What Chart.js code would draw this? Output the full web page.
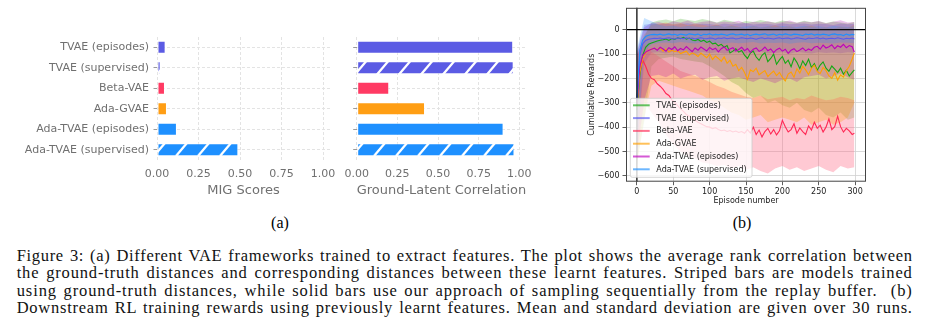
<!DOCTYPE html>
<html><head><meta charset="utf-8">
<script src="https://cdn.jsdelivr.net/npm/chart.js@4.4.1/dist/chart.umd.min.js"></script>
<style>
html,body{margin:0;padding:0;background:#fff;width:927px;height:326px;overflow:hidden;}
canvas{position:absolute;}
.lbl{position:absolute;width:40px;text-align:center;font-family:"Liberation Serif",serif;font-size:16px;line-height:17.4px;color:#000;}
.cap{position:absolute;left:16.7px;top:247px;width:896px;font-family:"Liberation Serif",serif;font-size:16.5px;line-height:17.4px;color:#111;}
.cap div{text-align:justify;text-align-last:justify;white-space:nowrap;}
</style></head>
<body>
<canvas id="mig" width="345" height="198" style="left:0;top:0;width:345px;height:198px"></canvas>
<canvas id="corr" width="210" height="198" style="left:330px;top:0;width:210px;height:198px"></canvas>
<canvas id="rl" width="300" height="206" style="left:580px;top:0;width:300px;height:206px"></canvas>
<div class="lbl" style="left:260px;top:214px">(a)</div>
<div class="lbl" style="left:722px;top:214px">(b)</div>
<div class="cap" id="cap">
<div><span>Figure 3: (a) Different VAE frameworks trained to extract features. The plot shows the average rank correlation between</span></div>
<div><span>the ground-truth distances and corresponding distances between these learnt features. Striped bars are models trained</span></div>
<div><span>using ground-truth distances, while solid bars use our approach of sampling sequentially from the replay buffer. &nbsp;(b)</span></div>
<div><span>Downstream RL training rewards using previously learnt features. Mean and standard deviation are given over 30 runs.</span></div>
</div>
<script>
// ---------- Panel (a) data ----------
const categories = ['TVAE (episodes)','TVAE (supervised)','Beta-VAE','Ada-GVAE','Ada-TVAE (episodes)','Ada-TVAE (supervised)'];
const migScores = [0.052, 0.022, 0.048, 0.060, 0.120, 0.490];
const groundLatentCorrelation = [0.962, 0.965, 0.200, 0.420, 0.903, 0.970];
const hatchedBars = [false, true, false, false, false, true];
const barColors = ['#5b5be4','#5b5be4','#ff3a63','#ff9e14','#1e90ff','#1e90ff'];
const barTicks = [0, 0.25, 0.5, 0.75, 1.0];

// ---------- Panel (b) data ----------
const seriesNames = ['TVAE (episodes)','TVAE (supervised)','Beta-VAE','Ada-GVAE','Ada-TVAE (episodes)','Ada-TVAE (supervised)'];
const episodes = [0,4,8,12,16,20,24,28,32,36, 40,44,48,52,56,60,64,68,72,76, 80,84,88,92,96,100,104,108,112,116, 120,124,128,132,136,140,144,148,152,156, 160,164,168,172,176,180,184,188,192,196, 200,204,208,212,216,220,224,228,232,236, 240,244,248,252,256,260,264,268,272,276, 280,284,288,292,296,299];
const tvaeEpisodes = [-330,-190,-105,-72,-60,-55,-50,-46,-43,-41, -38,-44,-36,-40,-33,-37,-31,-39,-34,-42, -45,-40,-48,-43,-52,-47,-58,-55,-66,-60, -72,-65,-95,-88,-78,-92,-85,-104,-118,-96, -88,-112,-126,-105,-94,-131,-118,-100,-142,-124, -110,-138,-125,-152,-116,-134,-160,-128,-147,-121, -155,-139,-166,-145,-132,-158,-171,-149,-162,-176, -158,-183,-167,-190,-175,-165];
const tvaeSupervised = [-300,-105,-58,-44,-39,-37,-35,-36,-34,-37, -35,-33,-36,-38,-34,-35,-37,-33,-36,-34, -38,-35,-33,-36,-37,-34,-35,-39,-34,-36, -33,-37,-35,-34,-38,-36,-33,-35,-37,-34, -36,-39,-35,-33,-37,-34,-36,-38,-35,-33, -37,-35,-34,-38,-36,-33,-35,-37,-39,-34, -36,-35,-33,-37,-34,-38,-36,-35,-37,-33, -36,-39,-35,-37,-34,-38];
const betaVae = [-300,-170,-125,-150,-182,-200,-205,-222,-232,-245, -262,-270,-288,-298,-312,-325,-335,-348,-355,-366, -372,-380,-386,-392,-398,-400,-406,-402,-410,-415, -412,-418,-414,-420,-416,-422,-418,-425,-410,-424, -400,-430,-412,-440,-418,-405,-428,-410,-432,-415, -372,-398,-420,-410,-386,-425,-403,-418,-430,-395, -412,-380,-405,-392,-420,-400,-366,-410,-398,-355, -398,-420,-405,-415,-430,-425];
const adaGvae = [-320,-175,-118,-95,-85,-80,-76,-82,-74,-88, -79,-92,-84,-90,-86,-98,-93,-88,-104,-95, -101,-110,-96,-106,-115,-100,-122,-108,-118,-130, -112,-138,-125,-150,-142,-168,-155,-176,-204,-165, -172,-158,-185,-176,-168,-192,-180,-170,-188,-175, -196,-210,-182,-174,-195,-160,-178,-150,-165,-184, -158,-146,-172,-180,-155,-168,-190,-200,-176,-207, -185,-195,-168,-150,-120,-95];
const adaTvaeEpisodes = [-310,-150,-105,-92,-85,-80,-76,-84,-72,-79, -88,-74,-81,-70,-86,-77,-83,-69,-80,-90, -75,-84,-71,-79,-87,-73,-82,-76,-91,-78, -70,-85,-79,-74,-88,-81,-72,-86,-77,-93, -80,-75,-89,-83,-71,-86,-79,-94,-82,-76, -88,-80,-97,-84,-78,-90,-83,-75,-87,-79, -85,-72,-68,-80,-63,-75,-70,-62,-78,-66, -72,-60,-74,-65,-70,-92];
const adaTvaeSupervised = [-290,-85,-42,-28,-23,-20,-19,-21,-18,-22, -20,-17,-21,-19,-23,-18,-20,-22,-17,-19, -21,-18,-24,-19,-20,-17,-22,-19,-21,-18, -20,-23,-19,-17,-21,-20,-18,-22,-19,-24, -20,-18,-21,-19,-17,-22,-20,-18,-23,-19, -21,-17,-20,-22,-18,-19,-21,-24,-18,-20, -17,-22,-19,-21,-18,-20,-23,-19,-17,-21, -20,-24,-18,-22,-19,-21];

const bandEpisodes = [0,10,20,30,40,50,60,70,80,90, 100,110,120,130,140,150,160,170,180,190, 200,210,220,230,240,250,260,270,280,290, 299];
const tvaeEpisodesUpper = [-120,-30,30,38,42,35,45,40,36,44, 38,30,41,35,28,36,32,40,34,30, 38,33,29,37,31,35,28,34,30,26, 32];
const tvaeEpisodesLower = [-540,-380,-150,-120,-115,-110,-120,-125,-130,-135, -150,-170,-190,-215,-230,-260,-280,-270,-300,-290, -310,-320,-300,-330,-340,-320,-350,-360,-340,-370, -360];
const tvaeSupervisedUpper = [-90,20,25,22,26,20,24,27,21,25, 23,19,26,22,24,28,21,25,23,20, 27,22,24,26,21,25,23,19,26,22, 24];
const tvaeSupervisedLower = [-500,-140,-95,-92,-98,-90,-96,-94,-100,-91, -97,-93,-99,-95,-92,-98,-94,-90,-97,-96, -93,-99,-91,-95,-98,-92,-96,-94,-97,-93, -95];
const betaVaeUpper = [-100,-60,-90,-110,-130,-150,-170,-180,-190,-200, -215,-230,-240,-255,-265,-275,-280,-270,-285,-280, -275,-290,-280,-285,-270,-280,-290,-285,-275,-280, -290];
const betaVaeLower = [-500,-300,-340,-380,-430,-470,-500,-520,-530,-545, -550,-560,-555,-570,-560,-575,-565,-580,-590,-570, -560,-575,-565,-580,-570,-560,-575,-585,-560,-570, -565];
const adaGvaeUpper = [-110,-20,20,25,30,22,28,18,25,20, 15,22,10,18,12,5,15,8,12,18, 10,14,6,12,16,8,10,5,12,8, 20];
const adaGvaeLower = [-560,-360,-230,-210,-220,-230,-240,-250,-260,-270, -290,-300,-320,-340,-350,-370,-360,-350,-380,-370, -360,-370,-380,-360,-390,-380,-370,-390,-380,-360, -300];
const adaTvaeEpisodesUpper = [-100,10,28,32,25,35,30,38,27,33, 36,29,34,31,37,26,33,30,35,28, 32,38,29,34,31,36,27,33,39,30, 32];
const adaTvaeEpisodesLower = [-520,-290,-190,-185,-195,-180,-200,-190,-185,-205, -195,-190,-210,-200,-195,-205,-215,-200,-210,-220, -205,-200,-215,-195,-190,-185,-200,-190,-180,-195, -205];
const adaTvaeSupervisedUpper = [-80,48,35,20,14,16,11,15,13,10, 14,17,12,15,11,13,16,10,14,12, 15,13,11,16,12,14,10,15,13,11, 14];
const adaTvaeSupervisedLower = [-480,-95,-60,-55,-52,-56,-50,-54,-57,-51, -55,-53,-58,-52,-56,-54,-50,-57,-53,-55, -52,-58,-54,-51,-56,-53,-55,-57,-52,-54, -56];

const rlXTicks = [0,50,100,150,200,250,300];
const rlYTicks = [-600,-500,-400,-300,-200,-100,0];

const lineColors = ['rgb(20,168,20)','rgb(88,88,240)','rgb(255,40,85)','rgb(255,160,0)','rgb(190,0,190)','rgb(30,144,255)'];
const fillColors = ['rgba(70,170,40,0.28)','rgba(90,80,220,0.28)','rgba(255,100,130,0.35)','rgba(255,155,0,0.28)','rgba(170,0,170,0.24)','rgba(30,144,255,0.24)'];

// ---------- caption letter fitting ----------
document.querySelectorAll('#cap div').forEach(d=>{
  const s=d.querySelector('span');
  d.style.textAlignLast='left'; d.style.textAlign='left';
  const w=s.getBoundingClientRect().width;
  d.style.textAlignLast=''; d.style.textAlign='';
  const n=s.textContent.length;
  const extra=896-w;
  if(extra>0){ d.style.letterSpacing=(extra*0.8/n).toFixed(3)+'px'; }
});

// ---------- helpers ----------
function hatch(color){
  const W=22,H=26, c=document.createElement('canvas'); c.width=W; c.height=H;
  const g=c.getContext('2d'); g.fillStyle=color; g.fillRect(0,0,W,H);
  g.strokeStyle='#ffffff'; g.lineWidth=2.3;
  [[-W,H,0,0],[0,H,W,0],[W,H,2*W,0]].forEach(([a,b,cc,d])=>{g.beginPath();g.moveTo(a,b);g.lineTo(cc,d);g.stroke();});
  return document.getElementById('mig').getContext('2d').createPattern(c,'repeat');
}
const FONT='"DejaVu Sans", sans-serif';
const GRAY='#707070';

function barChart(id, values, title, showLabels, yWidth, rightPad){
  const bg = barColors.map((c,i)=>hatchedBars[i]?hatch(c):c);
  return new Chart(document.getElementById(id),{
    type:'bar',
    data:{labels:categories, datasets:[{data:values, backgroundColor:bg,
      borderColor:'rgba(255,255,255,0.55)', borderWidth:1, borderSkipped:false,
      barPercentage:0.64, categoryPercentage:1}]},
    options:{
      indexAxis:'y', responsive:false, animation:false, devicePixelRatio:1,
      layout:{padding:{top:37,right:rightPad,left:0,bottom:0}},
      plugins:{legend:{display:false},tooltip:{enabled:false}},
      scales:{
        x:{type:'linear',min:0,max:1.042,
          afterBuildTicks:s=>{s.ticks=barTicks.map(v=>({value:v}));},
          afterFit:s=>{s.height=38;},
          grid:{color:'#e3e3e3',lineWidth:1,drawTicks:false},
          border:{display:false,dash:[3,2]},
          ticks:{font:{family:FONT,size:11},color:GRAY,padding:8,maxRotation:0,autoSkip:false,callback:v=>v.toFixed(2)},
          title:{display:true,text:title,font:{family:FONT,size:13},color:GRAY,padding:0}},
        y:{type:'category',
          afterFit:s=>{s.width=yWidth;},
          grid:{offset:false,color:'#e3e3e3',lineWidth:1,drawTicks:true,tickLength:3.5,tickColor:'#9a9a9a'},
          border:{display:false,dash:[3,2]},
          ticks:{font:{family:FONT,size:11},color:GRAY,padding:4.5,display:true,callback:function(v,i){return showLabels?categories[i]:'';}}}
      }
    }
  });
}
barChart('mig', migScores, 'MIG Scores', true, 157, 15);
barChart('corr', groundLatentCorrelation, 'Ground-Latent Correlation', false, 26.7, 9.6);

// ---------- Panel (b) ----------
const means=[tvaeEpisodes,tvaeSupervised,betaVae,adaGvae,adaTvaeEpisodes,adaTvaeSupervised];
const uppers=[tvaeEpisodesUpper,tvaeSupervisedUpper,betaVaeUpper,adaGvaeUpper,adaTvaeEpisodesUpper,adaTvaeSupervisedUpper];
const lowers=[tvaeEpisodesLower,tvaeSupervisedLower,betaVaeLower,adaGvaeLower,adaTvaeEpisodesLower,adaTvaeSupervisedLower];
const pairs=(xs,ys)=>ys.map((y,i)=>({x:xs[i],y:y}));
const datasets=[];
means.forEach((m,i)=>{
  datasets.push({label:seriesNames[i],data:pairs(episodes,m),borderColor:lineColors[i],borderWidth:1.1,pointRadius:0,fill:false,order:5-i});
});
means.forEach((m,i)=>{
  datasets.push({label:seriesNames[i]+' upper',data:pairs(bandEpisodes,uppers[i]),borderWidth:0,borderColor:'rgba(0,0,0,0)',pointRadius:0,fill:false,order:20-i});
  datasets.push({label:seriesNames[i]+' lower',data:pairs(bandEpisodes,lowers[i]),borderWidth:0,borderColor:'rgba(0,0,0,0)',pointRadius:0,fill:'-1',backgroundColor:fillColors[i],order:20-i});
});

const rlPlugin={
  id:'rlExtras',
  afterDatasetsDraw(chart){
    const {ctx,chartArea:a,scales:{x,y}}=chart;
    ctx.save();
    ctx.strokeStyle='#000'; ctx.lineWidth=1.2;
    const y0=y.getPixelForValue(0), x0=x.getPixelForValue(0);
    ctx.beginPath(); ctx.moveTo(a.left,y0); ctx.lineTo(a.right,y0); ctx.stroke();
    ctx.beginPath(); ctx.moveTo(x0,a.top); ctx.lineTo(x0,a.bottom); ctx.stroke();
    ctx.restore();
  },
  afterDraw(chart){
    const {ctx,chartArea:a}=chart;
    ctx.save();
    ctx.strokeStyle='#444'; ctx.lineWidth=1;
    ctx.strokeRect(a.left+0.5,a.top+0.5,a.right-a.left-1,a.bottom-a.top-1);
    const w=121.7,h=79,lx=a.left+4.3,ly=a.bottom-h-4.4;
    ctx.fillStyle='rgba(255,255,255,0.8)'; ctx.strokeStyle='#cccccc'; ctx.lineWidth=0.8;
    ctx.beginPath(); ctx.roundRect(lx,ly,w,h,2); ctx.fill(); ctx.stroke();
    ctx.font='8px '+FONT; ctx.textBaseline='middle'; ctx.textAlign='left';
    seriesNames.forEach((n,i)=>{
      const cy=ly+7+i*12.8;
      ctx.globalAlpha=0.65; ctx.strokeStyle=lineColors[i]; ctx.lineWidth=2;
      ctx.beginPath(); ctx.moveTo(lx+2.7,cy); ctx.lineTo(lx+19.4,cy); ctx.stroke();
      ctx.globalAlpha=1; ctx.fillStyle='#222'; ctx.fillText(n,lx+26,cy+0.5);
    });
    ctx.restore();
  }
};

new Chart(document.getElementById('rl'),{
  type:'line',
  data:{datasets:datasets},
  options:{
    responsive:false, animation:false, devicePixelRatio:1,
    layout:{padding:{left:7,top:3.3,right:14,bottom:0}},
    plugins:{legend:{display:false},tooltip:{enabled:false},filler:{drawTime:'beforeDatasetsDraw'}},
    elements:{point:{radius:0},line:{tension:0}},
    scales:{
      x:{type:'linear',min:-15,max:315,
        afterBuildTicks:s=>{s.ticks=rlXTicks.map(v=>({value:v}));},
        afterFit:s=>{s.height=24.3;},
        grid:{color:'#d0d0d0',lineWidth:0.8,drawTicks:true,tickLength:3.5,tickColor:'#333'},
        border:{display:false},
        ticks:{font:{family:FONT,size:8},color:'#222',padding:2,maxRotation:0,autoSkip:false},
        title:{display:true,text:'Episode number',font:{family:FONT,size:8},color:'#222',padding:0}},
      y:{type:'linear',min:-624,max:90,
        afterBuildTicks:s=>{s.ticks=rlYTicks.map(v=>({value:v}));},
        afterFit:s=>{s.width=39;},
        grid:{color:'#d0d0d0',lineWidth:0.8,drawTicks:true,tickLength:3.5,tickColor:'#333'},
        border:{display:false},
        ticks:{font:{family:FONT,size:8},color:'#222',padding:3,autoSkip:false,callback:v=>v<0?'\u2212'+Math.abs(v):String(v)},
        title:{display:true,text:'Cumulative Rewards',font:{family:FONT,size:8},color:'#222',padding:0}}
    }
  },
  plugins:[rlPlugin]
});
</script>
</body></html>
